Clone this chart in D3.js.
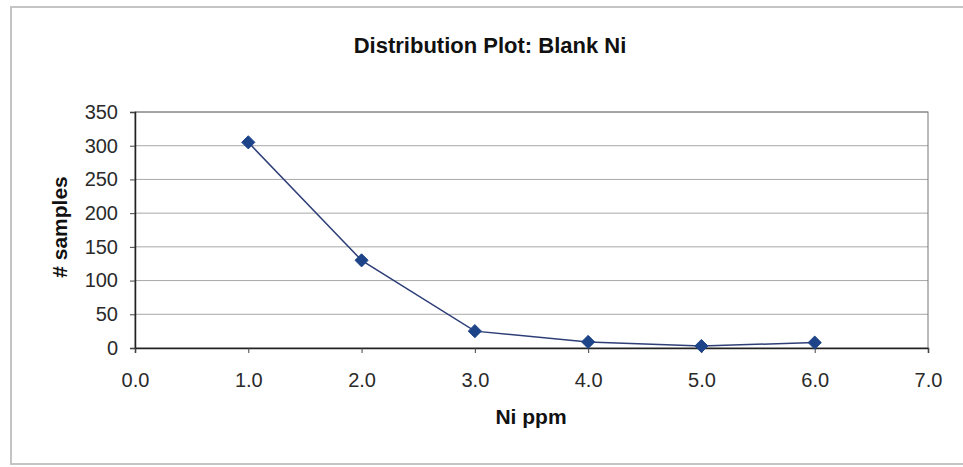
<!DOCTYPE html>
<html lang="en">
<head>
    <meta charset="UTF-8">
    <title>Distribution Plot: Blank Ni</title>
    <style>
        body {
            margin: 0;
            background: #fff;
        }
    </style>
</head>
<body>
    <script src="https://d3js.org/d3.v7.min.js"></script>
    <script>
        const chartW = 963
        const chartH = 467

        // data
        const niPpm = [1, 2, 3, 4, 5, 6]
        const samples = [305, 130, 25, 9, 3, 8]
        const xTicks = [0, 1, 2, 3, 4, 5, 6, 7]
        const yTicks = [0, 50, 100, 150, 200, 250, 300, 350]

        const margin = { left: 135, right: 35, top: 112, bottom: 119 }
        const plotW = chartW - margin.left - margin.right
        const plotH = chartH - margin.top - margin.bottom

        const xScale = d3.scaleLinear()
            .domain([0, 7])
            .range([0, plotW])

        const yScale = d3.scaleLinear()
            .domain([0, 350])
            .range([plotH, 0])

        const svg = d3.select('body')
            .append('svg')
            .attr('width', chartW)
            .attr('height', chartH)
            .style('font-family', '"Liberation Sans", Arial, sans-serif')

        // outer frame (scan edges)
        svg.append('path')
            .attr('d', `M ${chartW} 7 L 11 7 L 11 464 L ${chartW} 464`)
            .attr('fill', 'none')
            .attr('stroke', '#c4c4c4')
            .attr('stroke-width', 2)

        svg.append('text')
            .attr('x', 490)
            .attr('y', 53)
            .attr('text-anchor', 'middle')
            .attr('font-size', 22)
            .attr('font-weight', 'bold')
            .attr('fill', '#111')
            .text('Distribution Plot: Blank Ni')

        const g = svg.append('g')
            .attr('transform', `translate(${margin.left}, ${margin.top})`)

        // horizontal gridlines
        g.append('g')
            .selectAll('line')
            .data(yTicks.slice(1))
            .enter()
            .append('line')
            .attr('x1', 0)
            .attr('x2', plotW)
            .attr('y1', d => yScale(d))
            .attr('y2', d => yScale(d))
            .attr('stroke', '#a8a8a8')
            .attr('stroke-width', 1)

        // plot border
        g.append('rect')
            .attr('x', 0)
            .attr('y', 0)
            .attr('width', plotW)
            .attr('height', plotH)
            .attr('fill', 'none')
            .attr('stroke', '#777')
            .attr('stroke-width', 1)

        const yAxis = d3.axisLeft(yScale)
            .tickValues(yTicks)
            .tickSize(5)
            .tickPadding(12)
        const xAxis = d3.axisBottom(xScale)
            .tickValues(xTicks)
            .tickFormat(d3.format('.1f'))
            .tickSize(5)
            .tickPadding(20)

        const yG = g.append('g').call(yAxis)
        const xG = g.append('g')
            .attr('transform', `translate(0, ${plotH})`)
            .call(xAxis)

        ;[xG, yG].forEach(a => {
            a.select('.domain').attr('stroke', '#222').attr('stroke-width', 1.5)
            a.selectAll('.tick line').attr('stroke', '#444')
            a.selectAll('.tick text')
                .attr('font-size', 20)
                .attr('fill', '#2a2a2a')
                .attr('font-family', '"Liberation Sans", Arial, sans-serif')
        })

        const line = d3.line()
            .x((d, i) => xScale(niPpm[i]))
            .y(d => yScale(d))

        g.append('path')
            .datum(samples)
            .attr('d', line)
            .attr('fill', 'none')
            .attr('stroke', '#2e3f78')
            .attr('stroke-width', 1.5)

        g.append('g')
            .selectAll('path')
            .data(samples)
            .enter()
            .append('path')
            .attr('d', d3.symbol().type(d3.symbolDiamond2).size(110))
            .attr('transform', (d, i) => `translate(${xScale(niPpm[i])}, ${yScale(d)})`)
            .attr('fill', '#1d4489')
            .attr('stroke', '#1d4489')

        svg.append('text')
            .attr('x', 531)
            .attr('y', 424)
            .attr('text-anchor', 'middle')
            .attr('font-size', 21)
            .attr('font-weight', 'bold')
            .attr('fill', '#111')
            .text('Ni ppm')

        svg.append('text')
            .attr('transform', 'translate(67, 227) rotate(-90)')
            .attr('text-anchor', 'middle')
            .attr('font-size', 21)
            .attr('font-weight', 'bold')
            .attr('fill', '#111')
            .text('# samples')
    </script>
</body>
</html>
